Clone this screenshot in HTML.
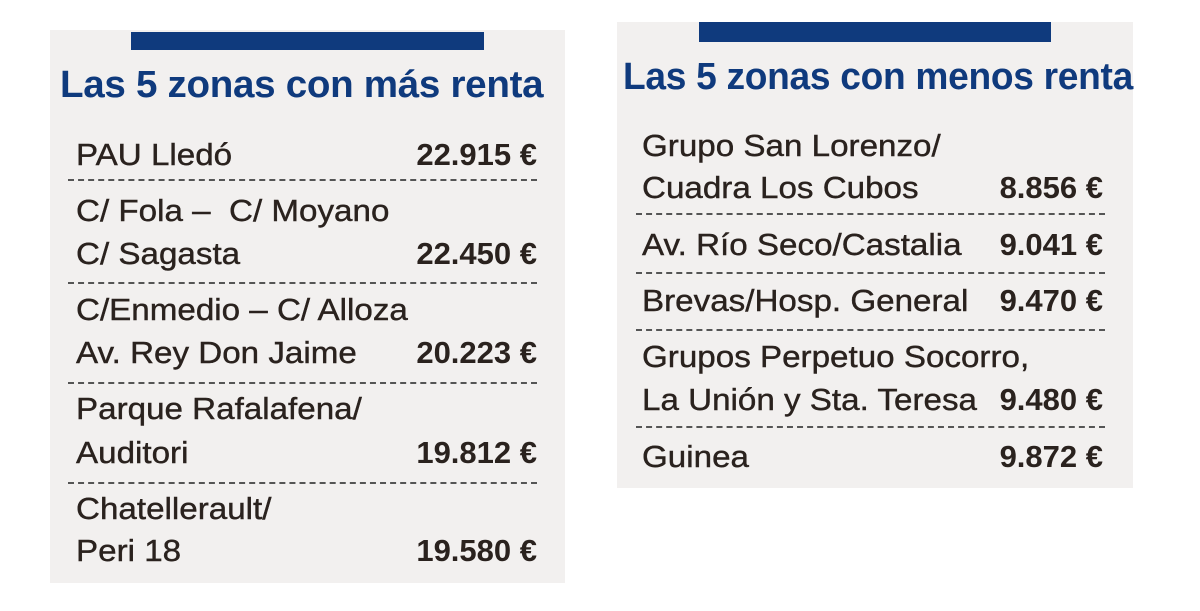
<!DOCTYPE html>
<html><head><meta charset="utf-8"><style>
body{margin:0;width:1200px;height:611px;background:#fff;position:relative;overflow:hidden;font-family:"Liberation Sans",sans-serif;color:#2a221e}
.panel{position:absolute;background:#f2f0ef}
.bar{position:absolute;background:#0f3a7d}
.title{position:absolute;font-weight:bold;color:#0f3a7d;font-size:38px;line-height:38px;white-space:nowrap;letter-spacing:-0.3px;transform-origin:left top}
.t{position:absolute;font-size:31px;line-height:30px;white-space:nowrap;transform-origin:left top;transform:scaleX(1.07);-webkit-text-stroke:0.4px #2a221e}
.v{position:absolute;font-size:31px;line-height:30px;font-weight:bold;white-space:nowrap;text-align:right;width:200px}
.d{position:absolute;height:0;border-top:2px dashed #555}
</style></head><body>
<div class="panel" style="left:50px;top:30px;width:515px;height:553px"></div>
<div class="bar" style="left:131px;top:32px;width:353px;height:18px"></div>
<div class="title" style="left:60px;top:66px;transform:scaleX(1.015)">Las 5 zonas con más renta</div>

<div class="t" style="left:76px;top:140px">PAU Lledó</div>
<div class="v" style="left:337px;top:140px">22.915 €</div>
<div class="d" style="left:68px;top:179px;width:469px"></div>
<div class="t" style="left:76px;top:196px">C/ Fola –&nbsp; C/ Moyano</div>
<div class="t" style="left:76px;top:239px">C/ Sagasta</div>
<div class="v" style="left:337px;top:239px">22.450 €</div>
<div class="d" style="left:68px;top:282px;width:469px"></div>
<div class="t" style="left:76px;top:295px">C/Enmedio – C/ Alloza</div>
<div class="t" style="left:76px;top:338px">Av. Rey Don Jaime</div>
<div class="v" style="left:337px;top:338px">20.223 €</div>
<div class="d" style="left:68px;top:382px;width:469px"></div>
<div class="t" style="left:76px;top:394px">Parque Rafalafena/</div>
<div class="t" style="left:76px;top:438px">Auditori</div>
<div class="v" style="left:337px;top:438px">19.812 €</div>
<div class="d" style="left:68px;top:482px;width:469px"></div>
<div class="t" style="left:76px;top:494px">Chatellerault/</div>
<div class="t" style="left:76px;top:536px">Peri 18</div>
<div class="v" style="left:337px;top:536px">19.580 €</div>

<div class="panel" style="left:617px;top:22px;width:516px;height:466px"></div>
<div class="bar" style="left:699px;top:22px;width:352px;height:20px"></div>
<div class="title" style="left:623px;top:58px;transform:scaleX(0.977)">Las 5 zonas con menos renta</div>

<div class="t" style="left:642px;top:131px">Grupo San Lorenzo/</div>
<div class="t" style="left:642px;top:173px">Cuadra Los Cubos</div>
<div class="v" style="left:903px;top:173px">8.856 €</div>
<div class="d" style="left:636px;top:213px;width:469px"></div>
<div class="t" style="left:642px;top:230px">Av. Río Seco/Castalia</div>
<div class="v" style="left:903px;top:230px">9.041 €</div>
<div class="d" style="left:636px;top:272px;width:469px"></div>
<div class="t" style="left:642px;top:286px">Brevas/Hosp. General</div>
<div class="v" style="left:903px;top:286px">9.470 €</div>
<div class="d" style="left:636px;top:329px;width:469px"></div>
<div class="t" style="left:642px;top:342px">Grupos Perpetuo Socorro,</div>
<div class="t" style="left:642px;top:385px">La Unión y Sta. Teresa</div>
<div class="v" style="left:903px;top:385px">9.480 €</div>
<div class="d" style="left:636px;top:426px;width:469px"></div>
<div class="t" style="left:642px;top:442px">Guinea</div>
<div class="v" style="left:903px;top:442px">9.872 €</div>
</body></html>
